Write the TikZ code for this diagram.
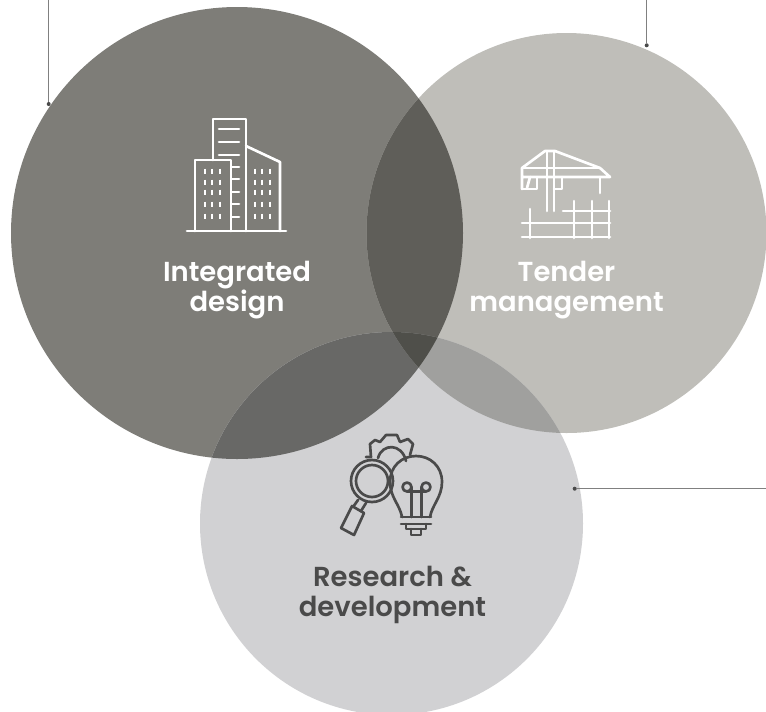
\documentclass[tikz,border=0pt]{standalone}
\usepackage{fontspec}
\setmainfont{Poppins}[BoldFont={Poppins SemiBold}]
\usetikzlibrary{positioning}
\definecolor{gDark}{HTML}{7E7D78}
\definecolor{gMid}{HTML}{BFBEB9}
\definecolor{gLight}{HTML}{D1D1D3}
\definecolor{gDarkMid}{HTML}{5F5E59}
\definecolor{gDarkLight}{HTML}{686866}
\definecolor{gMidLight}{HTML}{A0A09E}
\definecolor{gCore}{HTML}{4F4F4A}
\definecolor{gInk}{HTML}{4A4A4A}
\tikzset{
  x=.75pt, y=-.75pt,
  leader/.style={draw=gInk!70, line width=.8pt},
  leaderdot/.style={circle, fill=gInk, inner sep=0pt, minimum size=3pt},
  label/.style={font=\fontsize{20.6pt}{22.3pt}\selectfont\bfseries, align=center, inner sep=0pt},
  icon/.style={line width=2pt, line cap=round, line join=round},
  }

\begin{document}
\begin{tikzpicture}
    \useasboundingbox (0,0) rectangle (766,711);
    \clip (0,0) rectangle (766,711);

    % circles
    \fill[gDark] (237,233) circle (226);
    \fill[gMid] (566.5,233) circle (200);
    \fill[gLight] (391.5,523.5) circle (191.5);
    \begin{scope}
      \clip (237,233) circle (226);
      \fill[gDarkMid] (566.5,233) circle (200);
      \fill[gDarkLight] (391.5,523.5) circle (191.5);
    \end{scope}
    \begin{scope}
      \clip (566.5,233) circle (200);
      \fill[gMidLight] (391.5,523.5) circle (191.5);
      \clip (237,233) circle (226);
      \fill[gCore] (391.5,523.5) circle (191.5);
    \end{scope}

    % leaders
    \node [leaderdot] at (48.7,104) (dl) {};
    \node [leaderdot] at (646.7,45.3) (dr) {};
    \node [leaderdot] at (574.7,488.7) (db) {};
    \coordinate (tl) at (48.7,0);
    \coordinate (tr) at (646.7,0);
    \coordinate (eb) at (766,488.7);
    \draw [leader] (tl) -- (dl);
    \draw [leader] (tr) -- (dr);
    \draw [leader] (db) -- (eb);

    % labels
    \node [label, white] at (237,290) (design) {Integrated\\design};
    \node [label, white] at (566.5,290) (tender) {Tender\\management};
    \node [label, gInk] at (392.5,595) (research) {Research \&\\development};

    % building
    \begin{scope}[icon, white]
      \draw (213,160) -- (213,119) -- (246,119) -- (246,231);
      \draw (246,146) -- (280,162) -- (280,231);
      \draw (195,231) -- (195,160) -- (231,160) -- (231,231);
      \draw (187,231) -- (286,231);
      \foreach \y in {129,142,155} \draw (219,\y) -- (239,\y);
      \foreach \y in {167,179,192,204,217} \draw (232,\y) -- (239,\y);
      \foreach \y in {171,182,192,204,216} {
        \foreach \x in {205,212,220} \draw[line width=1.9pt, line cap=butt] (\x,\y-2.5) -- (\x,\y+2.5);
        \foreach \x in {255,262,270} \draw[line width=1.9pt, line cap=butt] (\x,\y-2.5) -- (\x,\y+2.5);
      }
    \end{scope}

    % crane
    \begin{scope}[icon, white]
      \draw (522,189) -- (522,168) -- (545,151) -- (555,151) -- (600,168) -- (610,177) -- (522,177);
      \draw (522,168) -- (600,168);
      \draw (547,151) -- (547,211);
      \draw (554,151) -- (554,211);
      \draw (554,189) -- (562,189) -- (562,177);
      \draw (522,189) -- (537,189) -- (537,177);
      \draw (530,177) -- (527,188);
      \draw (600,177) -- (600,193);
      \draw (530,209) -- (530,238);
      \draw (522,223) -- (610,223);
      \draw (522,237) -- (610,237);
      \draw (563,211) -- (610,211);
      \draw (574,201) -- (574,238);
      \draw (592,201) -- (592,238);
      \draw (609,201) -- (609,238);
    \end{scope}

    % lens, gear and bulb
    \begin{scope}[icon, gInk]
      \draw (372,481) circle (21);
      \draw (372,481) circle (16);
      \draw (358,500) -- (353,507);
      \draw (366,503) -- (361,511);
      \draw (352,506) -- (364,513) -- (354,535) -- (341,528) -- cycle;
      \draw (366,457) -- (371,457) -- (370,444) -- (375,440) -- (380,442) -- (386,435) -- (397,435) -- (400,442) -- (408,439) -- (413,444) -- (410,455);
      \draw (378,458) .. controls (382,443) and (402,443) .. (406,461);
      \draw (402,517) .. controls (400,505) and (390,497) .. (390,482) .. controls (390,466) and (402,456) .. (416,456) .. controls (430,456) and (442,466) .. (442,482) .. controls (442,497) and (432,505) .. (430,517);
      \draw (401,517) -- (431,517);
      \draw (401,524) -- (431,524);
      \draw (406,524) -- (406,529) -- (426,529) -- (426,524);
      \draw (411,529) -- (411,535) -- (421,535) -- (421,529);
      \draw (407,487) circle (4.5);
      \draw (426,487) circle (4.5);
      \draw (407,491.5) -- (426,491.5);
      \draw (411.5,487) -- (411.5,517);
      \draw (421.5,487) -- (421.5,517);
    \end{scope}

\end{tikzpicture}
\end{document}
